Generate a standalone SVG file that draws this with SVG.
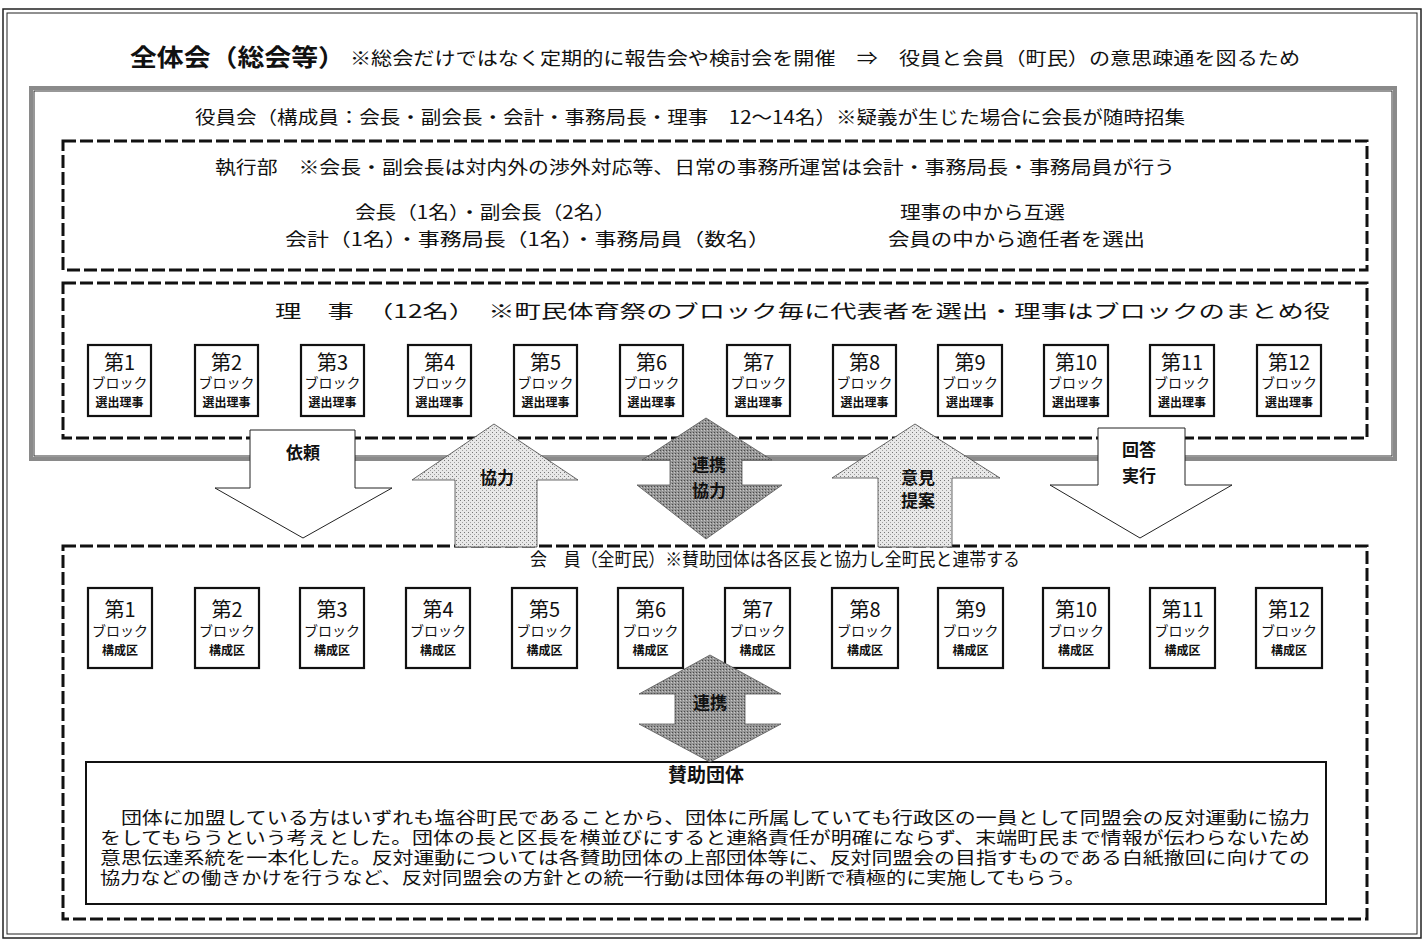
<svg xmlns="http://www.w3.org/2000/svg" width="1427" height="944" viewBox="0 0 1427 944">
<style>
text { font-family: "Noto Sans CJK JP", "Noto Sans", sans-serif; fill:#111; }
.hd { font-size:18px; }
.dash { fill:none; stroke:#111; stroke-width:3; stroke-dasharray:13 4; }
.blk rect { fill:#fff; stroke:#111; stroke-width:2.2; }
.bn { font-size:20px; text-anchor:middle; }
.bb { font-size:14px; text-anchor:middle; }
.bs { font-size:12px; text-anchor:middle; font-weight:bold; }
.al { font-size:17px; font-weight:bold; text-anchor:middle; }
.body { font-size:17px; }
</style>
<defs>
<pattern id="lite" width="4" height="4" patternUnits="userSpaceOnUse"><rect width="4" height="4" fill="#e8e8e8"/><rect x="0" y="0" width="1" height="1" fill="#777"/><rect x="2" y="2" width="1" height="1" fill="#a0a0a0"/></pattern>
<pattern id="dark" width="3" height="3" patternUnits="userSpaceOnUse"><rect width="3" height="3" fill="#969696"/><rect width="1" height="1" fill="#4a4a4a"/><rect x="2" y="1" width="1" height="1" fill="#c8c8c8"/></pattern>
</defs>

<g id="frame">
<rect x="3" y="9" width="1418" height="929" fill="#fff" stroke="#222" stroke-width="1.5"/>
<rect x="7" y="13" width="1410" height="921" fill="none" stroke="#222" stroke-width="1"/>
</g>

<g id="general-meeting">
<text x="130" y="66" font-size="24" font-weight="bold" textLength="215" lengthAdjust="spacingAndGlyphs">全体会（総会等）</text>
<text x="350" y="65" class="hd" textLength="950" lengthAdjust="spacingAndGlyphs">※総会だけではなく定期的に報告会や検討会を開催　⇒　役員と会員（町民）の意思疎通を図るため</text>
</g>

<g id="officers">
<rect x="31" y="88" width="1364" height="371" fill="none" stroke="#8a8a8a" stroke-width="4"/>
<rect x="34" y="91" width="1358" height="365" fill="none" stroke="#333" stroke-width="1"/>
<text x="195" y="124" class="hd" textLength="990" lengthAdjust="spacingAndGlyphs">役員会（構成員：会長・副会長・会計・事務局長・理事　12～14名）※疑義が生じた場合に会長が随時招集</text>
</g>

<g id="executive">
<rect x="63" y="141" width="1304" height="129" class="dash"/>
<text x="215" y="174" class="hd" textLength="960" lengthAdjust="spacingAndGlyphs">執行部　※会長・副会長は対内外の渉外対応等、日常の事務所運営は会計・事務局長・事務局員が行う</text>
<text x="355" y="219" class="hd" textLength="260" lengthAdjust="spacingAndGlyphs">会長（1名）・副会長（2名）</text>
<text x="285" y="246" class="hd" textLength="485" lengthAdjust="spacingAndGlyphs">会計（1名）・事務局長（1名）・事務局員（数名）</text>
<text x="900" y="219" class="hd" textLength="165" lengthAdjust="spacingAndGlyphs">理事の中から互選</text>
<text x="888" y="246" class="hd" textLength="257" lengthAdjust="spacingAndGlyphs">会員の中から適任者を選出</text>
</g>

<g id="directors">
<rect x="63" y="283" width="1304" height="155" class="dash"/>
<text x="275" y="318" class="hd" textLength="1055" lengthAdjust="spacingAndGlyphs">理　事　（12名）　※町民体育祭のブロック毎に代表者を選出・理事はブロックのまとめ役</text>
</g>

<g id="director-blocks" class="blk">
<g id="d1"><rect x="88" y="345" width="63" height="71"/><text x="119.5" y="370" class="bn">第1</text><text x="119.5" y="388" class="bb">ブロック</text><text x="119.5" y="407" class="bs">選出理事</text></g>
<g id="d2"><rect x="195" y="345" width="63" height="71"/><text x="226.5" y="370" class="bn">第2</text><text x="226.5" y="388" class="bb">ブロック</text><text x="226.5" y="407" class="bs">選出理事</text></g>
<g id="d3"><rect x="301" y="345" width="63" height="71"/><text x="332.5" y="370" class="bn">第3</text><text x="332.5" y="388" class="bb">ブロック</text><text x="332.5" y="407" class="bs">選出理事</text></g>
<g id="d4"><rect x="408" y="345" width="63" height="71"/><text x="439.5" y="370" class="bn">第4</text><text x="439.5" y="388" class="bb">ブロック</text><text x="439.5" y="407" class="bs">選出理事</text></g>
<g id="d5"><rect x="514" y="345" width="63" height="71"/><text x="545.5" y="370" class="bn">第5</text><text x="545.5" y="388" class="bb">ブロック</text><text x="545.5" y="407" class="bs">選出理事</text></g>
<g id="d6"><rect x="620" y="345" width="63" height="71"/><text x="651.5" y="370" class="bn">第6</text><text x="651.5" y="388" class="bb">ブロック</text><text x="651.5" y="407" class="bs">選出理事</text></g>
<g id="d7"><rect x="727" y="345" width="63" height="71"/><text x="758.5" y="370" class="bn">第7</text><text x="758.5" y="388" class="bb">ブロック</text><text x="758.5" y="407" class="bs">選出理事</text></g>
<g id="d8"><rect x="833" y="345" width="63" height="71"/><text x="864.5" y="370" class="bn">第8</text><text x="864.5" y="388" class="bb">ブロック</text><text x="864.5" y="407" class="bs">選出理事</text></g>
<g id="d9"><rect x="938" y="345" width="64" height="71"/><text x="970" y="370" class="bn">第9</text><text x="970" y="388" class="bb">ブロック</text><text x="970" y="407" class="bs">選出理事</text></g>
<g id="d10"><rect x="1044" y="345" width="64" height="71"/><text x="1076" y="370" class="bn">第10</text><text x="1076" y="388" class="bb">ブロック</text><text x="1076" y="407" class="bs">選出理事</text></g>
<g id="d11"><rect x="1150" y="345" width="64" height="71"/><text x="1182" y="370" class="bn">第11</text><text x="1182" y="388" class="bb">ブロック</text><text x="1182" y="407" class="bs">選出理事</text></g>
<g id="d12"><rect x="1257" y="345" width="64" height="71"/><text x="1289" y="370" class="bn">第12</text><text x="1289" y="388" class="bb">ブロック</text><text x="1289" y="407" class="bs">選出理事</text></g>
</g>

<g id="members">
<rect x="63" y="546" width="1304" height="373" class="dash"/>
<text x="530" y="566" class="hd" textLength="490" lengthAdjust="spacingAndGlyphs">会　員（全町民）※賛助団体は各区長と協力し全町民と連帯する</text>
</g>

<g id="member-blocks" class="blk">
<g id="m1"><rect x="88" y="588" width="64" height="80"/><text x="120" y="617" class="bn">第1</text><text x="120" y="636" class="bb">ブロック</text><text x="120" y="655" class="bs">構成区</text></g>
<g id="m2"><rect x="195" y="588" width="64" height="80"/><text x="227" y="617" class="bn">第2</text><text x="227" y="636" class="bb">ブロック</text><text x="227" y="655" class="bs">構成区</text></g>
<g id="m3"><rect x="300" y="588" width="64" height="80"/><text x="332" y="617" class="bn">第3</text><text x="332" y="636" class="bb">ブロック</text><text x="332" y="655" class="bs">構成区</text></g>
<g id="m4"><rect x="406" y="588" width="64" height="80"/><text x="438" y="617" class="bn">第4</text><text x="438" y="636" class="bb">ブロック</text><text x="438" y="655" class="bs">構成区</text></g>
<g id="m5"><rect x="512" y="588" width="65" height="80"/><text x="544.5" y="617" class="bn">第5</text><text x="544.5" y="636" class="bb">ブロック</text><text x="544.5" y="655" class="bs">構成区</text></g>
<g id="m6"><rect x="618" y="588" width="65" height="80"/><text x="650.5" y="617" class="bn">第6</text><text x="650.5" y="636" class="bb">ブロック</text><text x="650.5" y="655" class="bs">構成区</text></g>
<g id="m7"><rect x="725" y="588" width="65" height="80"/><text x="757.5" y="617" class="bn">第7</text><text x="757.5" y="636" class="bb">ブロック</text><text x="757.5" y="655" class="bs">構成区</text></g>
<g id="m8"><rect x="832" y="588" width="66" height="80"/><text x="865" y="617" class="bn">第8</text><text x="865" y="636" class="bb">ブロック</text><text x="865" y="655" class="bs">構成区</text></g>
<g id="m9"><rect x="938" y="588" width="65" height="80"/><text x="970.5" y="617" class="bn">第9</text><text x="970.5" y="636" class="bb">ブロック</text><text x="970.5" y="655" class="bs">構成区</text></g>
<g id="m10"><rect x="1043" y="588" width="66" height="80"/><text x="1076" y="617" class="bn">第10</text><text x="1076" y="636" class="bb">ブロック</text><text x="1076" y="655" class="bs">構成区</text></g>
<g id="m11"><rect x="1150" y="588" width="65" height="80"/><text x="1182.5" y="617" class="bn">第11</text><text x="1182.5" y="636" class="bb">ブロック</text><text x="1182.5" y="655" class="bs">構成区</text></g>
<g id="m12"><rect x="1256" y="588" width="66" height="80"/><text x="1289" y="617" class="bn">第12</text><text x="1289" y="636" class="bb">ブロック</text><text x="1289" y="655" class="bs">構成区</text></g>
</g>

<g id="supporters">
<rect x="86" y="762" width="1240" height="142" fill="#fff" stroke="#111" stroke-width="2"/>
<text x="706" y="782" font-size="19" font-weight="bold" text-anchor="middle">賛助団体</text>
<text x="100" y="824" class="body" textLength="1210" lengthAdjust="spacingAndGlyphs">　団体に加盟している方はいずれも塩谷町民であることから、団体に所属していても行政区の一員として同盟会の反対運動に協力</text>
<text x="100" y="844" class="body" textLength="1210" lengthAdjust="spacingAndGlyphs">をしてもらうという考えとした。団体の長と区長を横並びにすると連絡責任が明確にならず、末端町民まで情報が伝わらないため</text>
<text x="100" y="864" class="body" textLength="1210" lengthAdjust="spacingAndGlyphs">意思伝達系統を一本化した。反対運動については各賛助団体の上部団体等に、反対同盟会の目指すものである白紙撤回に向けての</text>
<text x="100" y="884" class="body" textLength="985" lengthAdjust="spacingAndGlyphs">協力などの働きかけを行うなど、反対同盟会の方針との統一行動は団体毎の判断で積極的に実施してもらう。</text>
</g>

<g id="connectors">
<g id="a-irai"><polygon points="250,430 355,430 355,488 392,488 303,538 215,488 250,488" fill="#fff" stroke="#222" stroke-width="1"/><text x="303" y="459" class="al">依頼</text></g>
<g id="a-kyoryoku"><polygon points="494,424 578,480 537,480 537,547 455,547 455,480 412,480" fill="url(#lite)" stroke="#444" stroke-width="0.8"/><text x="497" y="484" class="al">協力</text></g>
<g id="a-renkei"><polygon points="706,418 772,460 742,460 742,485 782,485 706,539 637,485 670,485 670,460 642,460" fill="url(#dark)" stroke="#555" stroke-width="0.8"/><text x="709" y="471" class="al">連携</text><text x="709" y="497" class="al">協力</text></g>
<g id="a-iken"><polygon points="915,424 1000,478 952,478 952,547 878,547 878,478 832,478" fill="url(#lite)" stroke="#444" stroke-width="0.8"/><text x="918" y="484" class="al">意見</text><text x="918" y="507" class="al">提案</text></g>
<g id="a-kaito"><polygon points="1098,428 1185,428 1185,485 1232,485 1140,538 1050,485 1098,485" fill="#fff" stroke="#222" stroke-width="1"/><text x="1139" y="456" class="al">回答</text><text x="1139" y="482" class="al">実行</text></g>
<g id="a-renkei2"><polygon points="710,655 781,694 745,694 745,724 781,724 710,762 639,724 675,724 675,694 639,694" fill="url(#dark)" stroke="#555" stroke-width="0.8"/><text x="710" y="709" class="al">連携</text></g>
</g>
</svg>
